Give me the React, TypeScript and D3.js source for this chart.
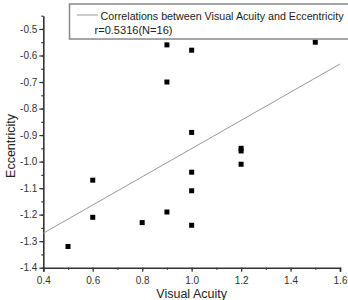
import React from 'react';
import * as d3 from 'd3';

// scatter points
const acuity = [0.9, 1.0, 0.9, 1.5, 1.0, 1.2, 1.2, 1.2, 0.6, 1.0, 1.0, 0.9, 0.6, 0.8, 1.0, 0.5];
const eccentricity = [-0.56, -0.58, -0.7, -0.55, -0.89, -0.95, -0.96, -1.01, -1.07, -1.04, -1.11, -1.19, -1.21, -1.23, -1.24, -1.32];
// fitted line end points
const fitX = [0.4, 1.6];
const fitY = [-1.27, -0.632];
const xTicks = [0.4, 0.6, 0.8, 1.0, 1.2, 1.4, 1.6];
const yTicks = [-1.4, -1.3, -1.2, -1.1, -1.0, -0.9, -0.8, -0.7, -0.6, -0.5];
const legendTitle = 'Correlations between Visual Acuity and Eccentricity';
const legendSub = 'r=0.5316(N=16)';

const W = 348, H = 300;
const margin = { top: 15.7, right: 8, bottom: 32.3, left: 43.3 };

function App() {
  const ref = React.useRef<SVGSVGElement>(null);

  React.useEffect(() => {
    const x = d3.scaleLinear().domain([0.4, 1.6]).range([margin.left, W - margin.right]);
    const y = d3.scaleLinear().domain([-1.4, -0.45]).range([H - margin.bottom, margin.top]);

    const svg = d3.select(ref.current);
    svg.selectAll('*').remove();
    const font = '"Liberation Sans", Arial, sans-serif';
    const fmt = (d: d3.NumberValue) => (+d).toFixed(1);

    // x axis
    const xAxis = svg.append('g').attr('transform', `translate(0,${y(-1.4)})`);
    xAxis.call(d3.axisBottom(x).tickValues(d3.range(0.4, 1.61, 0.1)).tickSize(2).tickFormat(() => ''));
    xAxis.call(g => g.select('.domain').remove());
    xAxis.append('g').call(d3.axisBottom(x).tickValues(xTicks).tickSize(4).tickFormat(fmt));
    xAxis.selectAll('line').attr('stroke', '#333').attr('stroke-width', 1.2);
    xAxis.selectAll('.domain').attr('stroke', '#333').attr('stroke-width', 1.6);
    xAxis.selectAll('text').attr('font-family', font).attr('font-size', 10).attr('fill', '#333').attr('dy', '0.9em');

    // y axis
    const yAxis = svg.append('g').attr('transform', `translate(${x(0.4)},0)`);
    yAxis.call(d3.axisLeft(y).tickValues(d3.range(-1.4, -0.449, 0.05)).tickSize(2).tickFormat(() => ''));
    yAxis.call(g => g.select('.domain').remove());
    yAxis.append('g').call(d3.axisLeft(y).tickValues(yTicks).tickSize(4).tickFormat(fmt).tickSizeOuter(0));
    yAxis.selectAll('line').attr('stroke', '#333').attr('stroke-width', 1.2);
    yAxis.selectAll('.domain').attr('stroke', '#333').attr('stroke-width', 1.6);
    yAxis.selectAll('text').attr('font-family', font).attr('font-size', 10).attr('fill', '#333').attr('x', -6);

    // axis titles
    svg.append('text')
      .attr('x', (x(0.4) + x(1.6)) / 2).attr('y', 298)
      .attr('text-anchor', 'middle').attr('font-family', font).attr('font-size', 12.5).attr('fill', '#222')
      .text('Visual Acuity');
    svg.append('text')
      .attr('transform', `translate(15,${146}) rotate(-90)`)
      .attr('text-anchor', 'middle').attr('font-family', font).attr('font-size', 12.5).attr('fill', '#222')
      .text('Eccentricity');

    // fit line
    const line = d3.line<number>().x(d => x(d)).y((d, i) => y(fitY[i]));
    svg.append('path').attr('d', line(fitX)).attr('fill', 'none').attr('stroke', '#999').attr('stroke-width', 1);

    // points
    svg.append('g').selectAll('rect').data(acuity).enter().append('rect')
      .attr('x', d => x(d) - 2.5).attr('y', (d, i) => y(eccentricity[i]) - 2.5)
      .attr('width', 5).attr('height', 5).attr('fill', '#000');

    // legend
    const lg = svg.append('g');
    lg.append('rect').attr('x', 69.5).attr('y', 4).attr('width', 300).attr('height', 35)
      .attr('fill', '#fff').attr('stroke', '#888').attr('stroke-width', 1.5);
    lg.append('line').attr('x1', 77).attr('x2', 98).attr('y1', 15).attr('y2', 15).attr('stroke', '#999');
    lg.append('text').attr('x', 100.5).attr('y', 19.5).attr('font-family', font).attr('font-size', 11.5)
      .attr('fill', '#222').attr('textLength', 243).attr('lengthAdjust', 'spacingAndGlyphs').text(legendTitle);
    lg.append('text').attr('x', 94.5).attr('y', 34).attr('font-family', font).attr('font-size', 11.5)
      .attr('fill', '#222').attr('textLength', 78).attr('lengthAdjust', 'spacingAndGlyphs').text(legendSub);
  }, []);

  return (
    <svg ref={ref} width={W} height={H} style={{ position: 'absolute', left: 0, top: 0, background: '#fff' }} />
  );
}

export default App;
